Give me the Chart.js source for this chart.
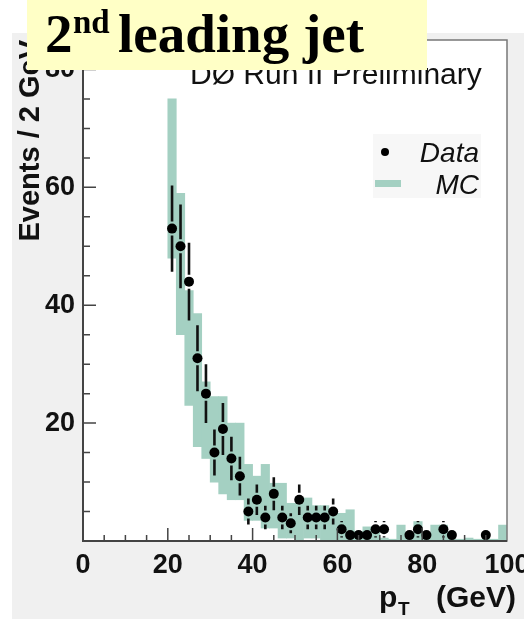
<!DOCTYPE html>
<html>
<head>
<meta charset="utf-8">
<script src="https://cdn.jsdelivr.net/npm/chart.js@4.4.0/dist/chart.umd.min.js"></script>
<style>
  html, body { margin: 0; padding: 0; background: #fff; overflow: hidden; }
  #wrap { width: 524px; height: 619px; }
</style>
</head>
<body>
<div id="wrap"><canvas id="ptCanvas" width="524" height="619"></canvas></div>
<script>
// 2 GeV bins from 20 to 100 GeV (bin centres)
var binCentres = [21, 23, 25, 27, 29, 31, 33, 35, 37, 39,
                  41, 43, 45, 47, 49, 51, 53, 55, 57, 59,
                  61, 63, 65, 67, 69, 71, 73, 75, 77, 79,
                  81, 83, 85, 87, 89, 91, 93, 95, 97, 99];

// data: events per bin and error bar half-length
var dataCounts = [53, 50, 44, 31, 25, 15, 19, 14, 11, 5,
                  7, 4, 8, 4, 3, 7, 4, 4, 4, 5,
                  2, 1, 1, 1, 2, 2, 0, 0, 1, 2,
                  1, 0, 2, 1, 0, 0, 0, 1, 0, 0];
var dataErrors = [7.3, 7.1, 6.6, 5.6, 5.0, 3.9, 4.4, 3.7, 3.3, 2.2,
                  2.6, 2.0, 2.8, 2.0, 1.7, 2.6, 2.0, 2.0, 2.0, 2.2,
                  1.4, 1.0, 1.0, 1.0, 1.4, 1.4, 0, 0, 1.0, 1.4,
                  1.0, 0, 1.4, 1.0, 0, 0, 0, 1.0, 0, 0];

// MC band: lower and upper edge per bin
var mcLow  = [48, 35, 23, 16, 14, 10, 8, 7, 7, 3.5,
              3.5, 2.2, 2.2, 0.5, 0.5, 0, 0.5, 0.5, 0, 0,
              0, 0, 0, 0, 0, 0, 0, 0, 0, 0,
              0, 0, 0, 0, 0, 0, 0, 0, 0, 0];
var mcHigh = [75, 59, 42.5, 38.6, 27, 24.5, 24.5, 20, 20, 13,
              11, 13, 9.8, 9.8, 6.4, 6.4, 7.3, 6, 6, 4.5,
              4.7, 5.3, 1.6, 2.4, 2.4, 0.5, 0.3, 2.7, 0.5, 3.3,
              1.2, 2.7, 2.7, 0.3, 0.3, 0.5, 0.3, 0.3, 0.3, 2.7];

var xTicks = [0, 20, 40, 60, 80, 100];
var yTicks = [20, 40, 60, 80];

var mcColor = '#a4d0c2';

var mcBars = [];
var dataPoints = [];
for (var i = 0; i < binCentres.length; i++) {
  mcBars.push({ x: binCentres[i], y: [mcLow[i], mcHigh[i]] });
  if (dataCounts[i] > 0) {
    dataPoints.push({ x: binCentres[i], y: dataCounts[i], err: dataErrors[i] });
  }
}

var sans = 'Arial, "Liberation Sans", Helvetica, sans-serif';
var serif = '"Liberation Serif", "Times New Roman", Times, serif';

var decor = {
  id: 'decor',
  beforeDraw: function(chart) {
    var ctx = chart.ctx, a = chart.chartArea;
    ctx.save();
    ctx.fillStyle = '#ffffff';
    ctx.fillRect(0, 0, chart.width, chart.height);
    ctx.fillStyle = '#f0f0f0';
    ctx.fillRect(12, 33, chart.width - 12, chart.height - 33);
    ctx.fillStyle = '#ffffff';
    ctx.fillRect(a.left, a.top, a.right - a.left, a.bottom - a.top);
    ctx.restore();
  },
  afterDatasetsDraw: function(chart) {
    var ctx = chart.ctx, a = chart.chartArea;
    var xs = chart.scales.x, ys = chart.scales.y;
    ctx.save();

    // error bars, broken round the marker
    ctx.strokeStyle = '#111';
    ctx.lineWidth = 2.6;
    ctx.beginPath();
    dataPoints.forEach(function(p) {
      var px = xs.getPixelForValue(p.x);
      var pc = ys.getPixelForValue(p.y);
      var pt = ys.getPixelForValue(p.y + p.err);
      var pb = ys.getPixelForValue(p.y - p.err);
      var gap = 7;
      if (pc - gap > pt) { ctx.moveTo(px, pt); ctx.lineTo(px, pc - gap); }
      if (pc + gap < pb) { ctx.moveTo(px, pc + gap); ctx.lineTo(px, pb); }
    });
    ctx.stroke();

    // frame
    ctx.strokeStyle = '#777';
    ctx.lineWidth = 1.5;
    ctx.strokeRect(a.left, a.top, a.right - a.left, a.bottom - a.top);
    ctx.strokeStyle = '#444';
    ctx.lineWidth = 2;
    ctx.beginPath();
    ctx.moveTo(a.left, a.top);
    ctx.lineTo(a.left, a.bottom);
    ctx.lineTo(a.right, a.bottom);
    ctx.stroke();

    // tick marks pointing into the plot
    ctx.lineWidth = 1.5;
    ctx.beginPath();
    for (var v = 5; v < 100; v += 5) {
      var tx = xs.getPixelForValue(v);
      var len = (v % 20 === 0) ? 13 : 6;
      ctx.moveTo(tx, a.bottom);
      ctx.lineTo(tx, a.bottom - len);
    }
    for (var w = 5; w <= 80; w += 5) {
      var ty = ys.getPixelForValue(w);
      var ylen = (w % 20 === 0) ? 13 : 7;
      ctx.moveTo(a.left, ty);
      ctx.lineTo(a.left + ylen, ty);
    }
    ctx.stroke();
    ctx.restore();
  },
  afterDraw: function(chart) {
    var ctx = chart.ctx;
    ctx.save();
    ctx.fillStyle = '#111';
    ctx.textBaseline = 'alphabetic';

    // experiment label
    ctx.font = '30px ' + sans;
    ctx.fillText('D\u00d8 Run II Preliminary', 190, 84);

    // legend
    ctx.fillStyle = '#f7f7f7';
    ctx.fillRect(373, 134, 108, 64);
    ctx.fillStyle = '#000';
    ctx.beginPath();
    ctx.arc(385, 152, 4, 0, Math.PI * 2);
    ctx.fill();
    ctx.fillStyle = mcColor;
    ctx.fillRect(375, 180, 26, 7);
    ctx.fillStyle = '#111';
    ctx.font = 'italic 28px ' + sans;
    ctx.textAlign = 'right';
    ctx.fillText('Data', 479, 162);
    ctx.fillText('MC', 479, 194);
    ctx.textAlign = 'left';

    // x axis title with subscript
    ctx.font = 'bold 30px ' + sans;
    ctx.fillText('p', 379, 607);
    ctx.font = 'bold 19px ' + sans;
    ctx.fillText('T', 398, 615);
    ctx.font = 'bold 30px ' + sans;
    ctx.fillText('(GeV)', 436, 607);

    // title box
    ctx.fillStyle = '#ffffc6';
    ctx.fillRect(27, 0, 400, 70);
    ctx.fillStyle = '#000';
    ctx.font = 'bold 55px ' + serif;
    ctx.fillText('2', 45, 52);
    ctx.font = 'bold 33px ' + serif;
    ctx.fillText('nd', 73, 33);
    ctx.font = 'bold 55px ' + serif;
    ctx.fillText('leading jet', 118, 52);
    ctx.restore();
  }
};

var ctx = document.getElementById('ptCanvas').getContext('2d');
var ptChart = new Chart(ctx, {
  type: 'bar',
  data: {
    datasets: [
      {
        type: 'scatter',
        label: 'Data',
        data: dataPoints,
        pointRadius: 5,
        pointBackgroundColor: '#000',
        pointBorderWidth: 0,
        order: 0
      },
      {
        label: 'MC',
        data: mcBars,
        backgroundColor: mcColor,
        borderWidth: 0,
        barPercentage: 1.0,
        categoryPercentage: 1.0,
        order: 1
      }
    ]
  },
  options: {
    responsive: false,
    animation: false,
    devicePixelRatio: 1,
    layout: { padding: { left: 0, right: 17, top: 40, bottom: 0 } },
    plugins: { legend: { display: false }, tooltip: { enabled: false } },
    scales: {
      x: {
        type: 'linear',
        min: 0,
        max: 100,
        offset: false,
        grid: { display: false, drawTicks: false },
        border: { display: false },
        ticks: {
          stepSize: 20,
          autoSkip: false,
          maxRotation: 0,
          padding: 8,
          color: '#111',
          font: { family: sans, size: 27, weight: 'bold' },
          callback: function(v) { return xTicks.indexOf(v) >= 0 ? String(v) : ''; }
        },
        afterFit: function(s) { s.paddingLeft = 0; s.paddingRight = 0; s.height = 78; }
      },
      y: {
        min: 0,
        max: 85,
        grid: { display: false, drawTicks: false },
        border: { display: false },
        ticks: {
          stepSize: 20,
          includeBounds: false,
          padding: 8,
          color: '#111',
          font: { family: sans, size: 27, weight: 'bold' },
          callback: function(v) { return yTicks.indexOf(v) >= 0 ? String(v) : ''; }
        },
        title: {
          display: true,
          text: 'Events / 2 GeV',
          align: 'end',
          color: '#111',
          padding: { top: 14, bottom: 0 },
          font: { family: sans, size: 29, weight: 'bold' }
        },
        afterFit: function(s) { s.paddingTop = 0; s.paddingBottom = 0; s.width = 83; }
      }
    }
  },
  plugins: [decor]
});
</script>
</body>
</html>
